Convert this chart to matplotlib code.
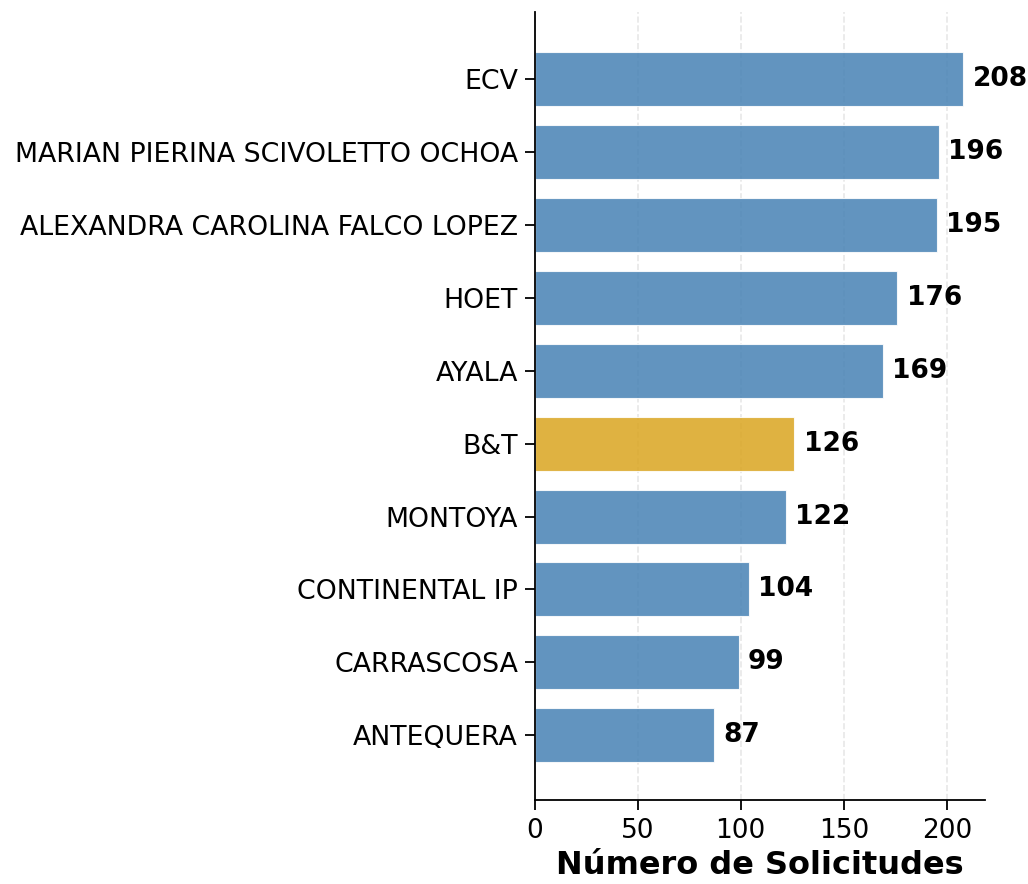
import matplotlib.pyplot as plt

agentes = ['ECV', 'MARIAN PIERINA SCIVOLETTO OCHOA', 'ALEXANDRA CAROLINA FALCO LOPEZ',
           'HOET', 'AYALA', 'B&T', 'MONTOYA', 'CONTINENTAL IP', 'CARRASCOSA', 'ANTEQUERA']
solicitudes = [208, 196, 195, 176, 169, 126, 122, 104, 99, 87]
destacado = 'B&T'

colores = ['goldenrod' if a == destacado else 'steelblue' for a in agentes]

fig, ax = plt.subplots(figsize=(10.28, 8.84), dpi=100)
fig.subplots_adjust(left=0.52, right=0.958, bottom=0.095, top=0.986)

y = list(range(len(agentes)))
ax.barh(y, solicitudes, color=colores, alpha=0.85, height=0.74,
        edgecolor='white', linewidth=0.8, zorder=2)
ax.set_yticks(y)
ax.set_yticklabels(agentes, fontsize=19.3)
ax.set_ylim(len(agentes) - 1 + 0.89, -0.92)
ax.set_xlim(0, max(solicitudes) * 1.05)
ax.tick_params(axis='x', labelsize=19, pad=6)
ax.tick_params(length=7, width=1.3)
ax.tick_params(axis='y', pad=5)

for yi, v in zip(y, solicitudes):
    ax.text(v + 4.5, yi, str(v), va='center', ha='left', fontsize=19, fontweight='bold')

ax.set_xlabel('Número de Solicitudes', fontsize=23, fontweight='bold', labelpad=4)
ax.grid(axis='x', linestyle='--', linewidth=1.2, alpha=0.3, zorder=0)
for s in ['left', 'bottom']:
    ax.spines[s].set_linewidth(1.3)
ax.spines['top'].set_visible(False)
ax.spines['right'].set_visible(False)

plt.savefig('out.png', dpi=100)
